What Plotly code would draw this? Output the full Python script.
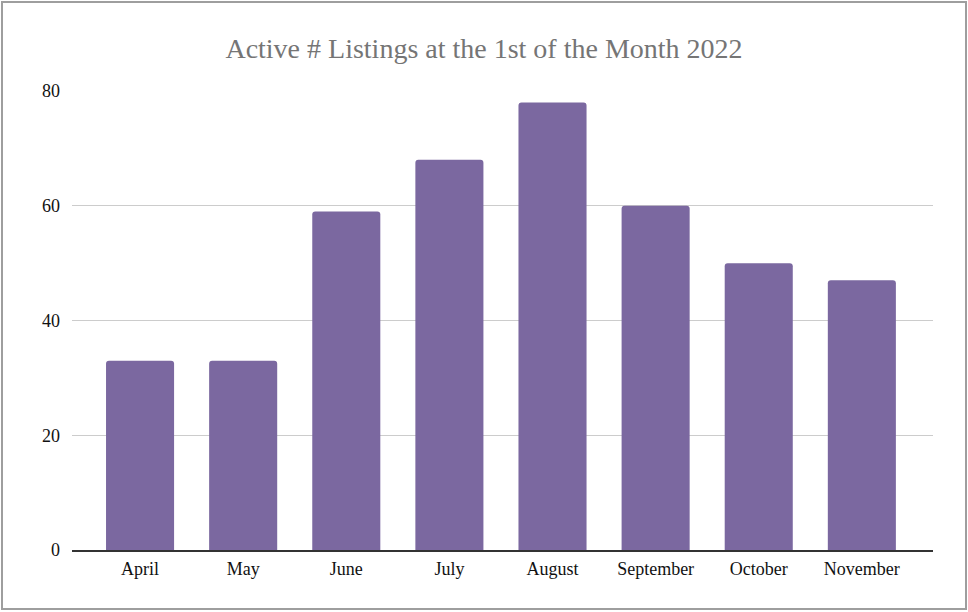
import plotly.graph_objects as go

months = ["April", "May", "June", "July", "August", "September", "October", "November"]
listings = [33, 33, 59, 68, 78, 60, 50, 47]
y_ticks = [0, 20, 40, 60, 80]

W, H = 968, 612
L, R, T, B = 72, 35, 91, 62
pw, ph = W - L - R, H - T - B

def px_x(x):
    return (x - L) / pw

def px_y(y):
    return (H - B - y) / ph

fig = go.Figure(go.Bar(
    x=months, y=listings,
    marker=dict(color="#7b68a0", cornerradius=3, line=dict(width=0)),
    width=0.66,
))

fig.update_layout(
    width=W, height=H,
    margin=dict(l=L, r=R, t=T, b=B),
    paper_bgcolor="white", plot_bgcolor="white",
    font=dict(family="Liberation Serif, Times New Roman, serif", size=18, color="#111111"),
    title=dict(text="Active # Listings at the 1st of the Month 2022",
               x=0.5, xanchor="center", y=1 - 48 / H, yanchor="middle",
               font=dict(family="Liberation Serif, serif", size=28, color="#757575")),
    showlegend=False,
    bargap=0.34,
)
fig.update_xaxes(range=[-0.66, 7.69], showgrid=False, ticks="", showline=True,
                 linecolor="#333333", linewidth=2, ticklabelstandoff=1,
                 tickfont=dict(size=18, color="#111111"))
fig.update_yaxes(range=[0, 80], tickvals=y_ticks, showgrid=True, gridcolor="#cccccc",
                 gridwidth=1, zeroline=False, showline=False, ticks="",
                 ticklabelstandoff=11, tickfont=dict(size=18, color="#111111"))

# chart border
fig.add_shape(type="rect", xref="paper", yref="paper",
              x0=px_x(2), x1=px_x(966), y0=px_y(2), y1=px_y(609),
              line=dict(color="#9e9e9e", width=2), fillcolor="rgba(0,0,0,0)", layer="below")

fig.write_html("out.html")
